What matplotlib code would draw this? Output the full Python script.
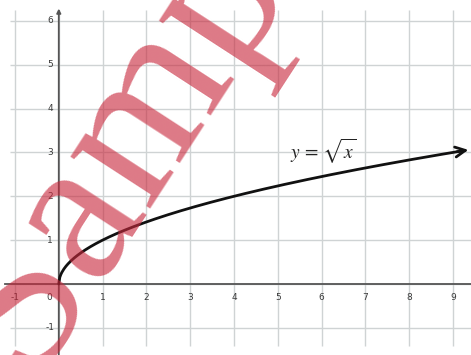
"""Graph of y = sqrt(x) on a square grid, with a watermark stamp"""
import matplotlib
matplotlib.use('Agg')
import matplotlib.pyplot as plt
import numpy as np

# ---------- data ----------
x_ticks = [-1, 1, 2, 3, 4, 5, 6, 7, 8, 9]
y_ticks = [-1, 1, 2, 3, 4, 5, 6]
grid_x = [-1, 0, 1, 2, 3, 4, 5, 6, 7, 8, 9]
grid_y = [-1, 0, 1, 2, 3, 4, 5, 6]
curve_start = 0.0
curve_end = 9.35          # where the arrowhead sits

# ---------- palette ----------
GRID = '#cfd3d4'
AXIS = '#555555'
TICK = '#3a3a3a'
CURVE = '#111111'
STAMP = '#c8283c'

fig = plt.figure(figsize=(4.71, 3.55), dpi=100, facecolor='white')
ax = fig.add_axes([0, 0, 1, 1])
ax.set_xlim(-1.342, 9.411)
ax.set_ylim(-1.619, 6.475)
ax.axis('off')

# grid
ax.vlines(grid_x, -1.42, 6.25, colors=GRID, lw=1.0, zorder=1)
ax.hlines(grid_y, -1.12, 9.411, colors=GRID, lw=1.0, zorder=1)

# axes with arrow on the vertical one
ax.plot([-1.22, 9.411], [0, 0], color=AXIS, lw=1.3, zorder=2)
ax.annotate('', xy=(0, 6.28), xytext=(0, -1.62),
            arrowprops=dict(arrowstyle='-|>', color=AXIS, lw=1.3,
                            mutation_scale=6, shrinkA=0, shrinkB=0),
            zorder=2)

for v in x_ticks:
    ax.text(v, -0.3, str(v), ha='center', va='center', fontsize=6.5,
            color=TICK, zorder=2)
ax.text(-0.22, -0.3, '0', ha='center', va='center', fontsize=6.5,
        color=TICK, zorder=2)
for v in y_ticks:
    ax.text(-0.2, v, str(v), ha='center', va='center', fontsize=6.5,
            color=TICK, zorder=2)

# the curve
xs = np.linspace(curve_start, curve_end, 400)
ys = np.sqrt(xs)
ax.plot(xs[:-3], ys[:-3], color=CURVE, lw=2.0, solid_capstyle='round', zorder=3)
ax.annotate('', xy=(xs[-1], ys[-1]), xytext=(xs[-12], ys[-12]),
            arrowprops=dict(arrowstyle='->', color=CURVE, lw=2.0,
                            mutation_scale=18, shrinkA=0, shrinkB=0),
            zorder=3)
ax.text(5.28, 3.02, r'$y\,=\,\sqrt{x}$', ha='left', va='center',
        fontsize=14, color='#222222', math_fontfamily='stix', zorder=3)

# watermark stamp
ax.text(0.4225, 0.682, 'Sample', transform=ax.transAxes, rotation=57,
        rotation_mode='anchor', ha='center', va='baseline', fontsize=150,
        family='Liberation Serif', color=STAMP, alpha=0.62, zorder=4)

fig.savefig('out.png', dpi=100, facecolor='white')
plt.close(fig)
